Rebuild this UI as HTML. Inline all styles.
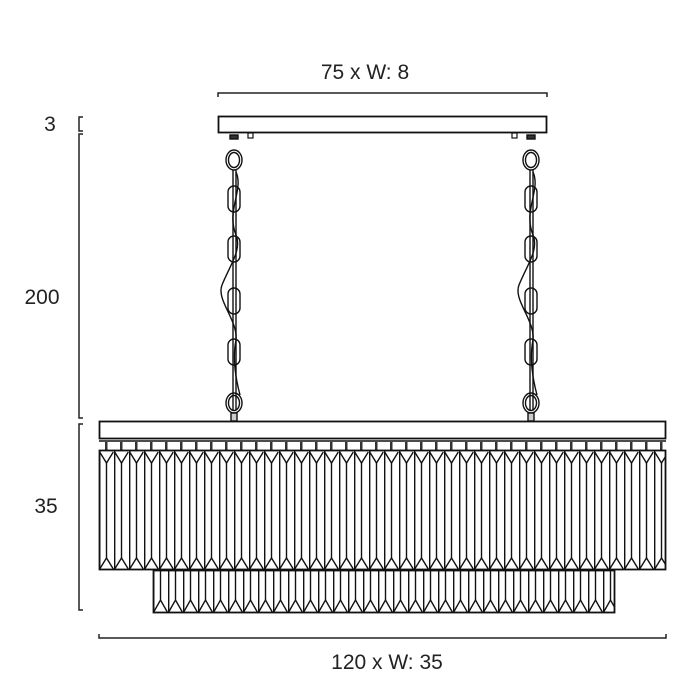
<!DOCTYPE html>
<html><head><style>
html,body{margin:0;padding:0;background:#fff;}
svg{display:block;}
text{font-family:"Liberation Sans",sans-serif;font-size:21px;fill:#222;}
</style></head><body>
<svg width="700" height="700" viewBox="0 0 700 700" xmlns="http://www.w3.org/2000/svg">
<defs>
<pattern id="c1" x="99" y="450" width="15" height="121" patternUnits="userSpaceOnUse">
<rect width="15" height="121" fill="#fff"/>
<g stroke="#111" stroke-width="1.4" fill="none">
<line x1="0.7" y1="0" x2="0.7" y2="121"/>
<line x1="7.5" y1="13" x2="7.5" y2="108"/>
<polyline points="0.7,2 7.5,13 14.3,2"/>
<polyline points="0.7,119 7.5,108 14.3,119"/>
</g>
</pattern>
<pattern id="c2" x="153" y="570" width="15" height="43" patternUnits="userSpaceOnUse">
<rect width="15" height="43" fill="#fff"/>
<g stroke="#111" stroke-width="1.4" fill="none">
<line x1="0.7" y1="0" x2="0.7" y2="43"/>
<line x1="7.5" y1="0" x2="7.5" y2="30"/>
<polyline points="0.7,42 7.5,30 14.3,42"/>
</g>
</pattern>
<pattern id="hk" x="99" y="442" width="15" height="8" patternUnits="userSpaceOnUse">
<rect x="6" y="0" width="2.5" height="8" fill="#333"/>
</pattern>
</defs>

<g stroke="#222" stroke-width="1.5" fill="none">
<polyline points="218,97 218,93 547,93 547,97"/>
<polyline points="83,117 79,117 79,131 83,131"/>
<polyline points="83,134 79,134 79,418 83,418"/>
<polyline points="83,424 79,424 79,610 83,610"/>
<polyline points="99,634 99,638 666,638 666,634"/>
</g>

<text x="365" y="79" text-anchor="middle">75 x W: 8</text>
<text x="50" y="131" text-anchor="middle">3</text>
<text x="42" y="304" text-anchor="middle">200</text>
<text x="46" y="513" text-anchor="middle">35</text>
<text x="387" y="669" text-anchor="middle">120 x W: 35</text>

<rect x="218.5" y="116.5" width="328" height="16" fill="#fff" stroke="#111" stroke-width="1.8"/>
<rect x="248" y="133" width="5" height="5" fill="none" stroke="#111" stroke-width="1.2"/>
<rect x="512" y="133" width="5" height="5" fill="none" stroke="#111" stroke-width="1.2"/>

<g stroke="#111" stroke-width="1.4" fill="none">
<g id="ch">
<rect x="230" y="135" width="8" height="4" fill="#333"/>
<ellipse cx="234" cy="160" rx="8" ry="10"/>
<ellipse cx="234" cy="160" rx="5.5" ry="7.5"/>
<line x1="233" y1="170" x2="233" y2="410"/>
<line x1="236" y1="170" x2="236" y2="410"/>
<rect x="228" y="186" width="12" height="26" rx="6"/>
<rect x="228" y="236" width="12" height="26" rx="6"/>
<rect x="228" y="288" width="12" height="26" rx="6"/>
<rect x="228" y="339" width="12" height="26" rx="6"/>
<ellipse cx="234" cy="403" rx="8" ry="10"/>
<ellipse cx="234" cy="403" rx="5.5" ry="7.5"/>
<rect x="231" y="413" width="6" height="8" fill="#ccc"/>
<path d="M236,172 C244,190 226,210 236,235 C242,250 230,265 222,285 C216,300 238,320 236,340 C232,360 236,380 240,395"/>
</g>
<use href="#ch" transform="translate(297,0)"/>
</g>

<rect x="99.5" y="421.5" width="566" height="17" fill="#fff" stroke="#111" stroke-width="1.8"/>
<line x1="99" y1="441" x2="666" y2="441" stroke="#111" stroke-width="1.5"/>
<rect x="99" y="442" width="567" height="8" fill="url(#hk)"/>

<rect x="99.5" y="450.5" width="566" height="119" fill="url(#c1)" stroke="#111" stroke-width="1.8"/>
<rect x="153.5" y="570.5" width="461" height="42" fill="url(#c2)" stroke="#111" stroke-width="1.8"/>
</svg>
</body></html>
